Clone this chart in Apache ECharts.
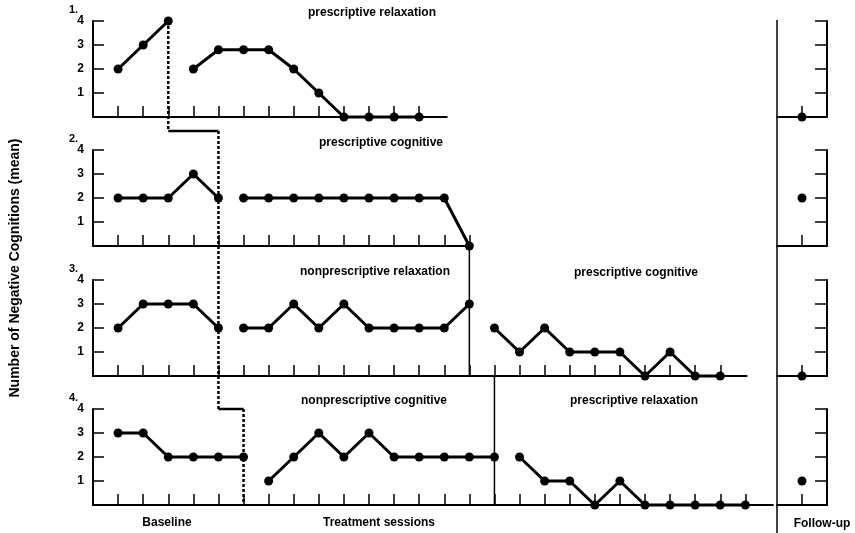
<!DOCTYPE html>
<html>
<head>
<meta charset="utf-8">
<script src="https://cdn.jsdelivr.net/npm/echarts@6/dist/echarts.min.js"></script>
<style>
html,body{margin:0;padding:0;background:#fff;}
#chart{width:855px;height:533px;}
</style>
</head>
<body>
<div id="chart"></div>
<script>
// ---------- DATA ----------
// Panel 1
const p1Baseline = [2, 3, 4];                              // sessions 1-3
const p1Treatment = [2, 2.8, 2.8, 2.8, 2, 1, 0, 0, 0, 0];  // sessions 4-13
// Panel 2
const p2Baseline = [2, 2, 2, 3, 2];                        // sessions 1-5
const p2Treatment = [2, 2, 2, 2, 2, 2, 2, 2, 2, 0];        // sessions 6-15
// Panel 3
const p3Baseline = [2, 3, 3, 3, 2];                        // sessions 1-5
const p3Treatment1 = [2, 2, 3, 2, 3, 2, 2, 2, 2, 3];       // sessions 6-15
const p3Treatment2 = [2, 1, 2, 1, 1, 1, 0, 1, 0, 0];       // sessions 16-25
// Panel 4
const p4Baseline = [3, 3, 2, 2, 2, 2];                     // sessions 1-6
const p4Treatment1 = [1, 2, 3, 2, 3, 2, 2, 2, 2, 2];       // sessions 7-16
const p4Treatment2 = [2, 1, 1, 0, 1, 0, 0, 0, 0, 0];       // sessions 17-26
// Follow-up (one value per panel)
const followUp = [0, 2, 0, 1];

const panelNumbers = ['1.', '2.', '3.', '4.'];
const yTickValues = [1, 2, 3, 4];
const phaseTitles = [
  ['prescriptive relaxation'],
  ['prescriptive cognitive'],
  ['nonprescriptive relaxation', 'prescriptive cognitive'],
  ['nonprescriptive cognitive', 'prescriptive relaxation']
];
const bottomLabels = ['Baseline', 'Treatment sessions', 'Follow-up'];
const yTitle = 'Number of Negative Cognitions (mean)';

// phase segments per panel: [startSession, values]
const panelSegments = [
  [[1, p1Baseline], [4, p1Treatment]],
  [[1, p2Baseline], [6, p2Treatment]],
  [[1, p3Baseline], [6, p3Treatment1], [16, p3Treatment2]],
  [[1, p4Baseline], [7, p4Treatment1], [17, p4Treatment2]]
];
const sessionTicks = [13, 15, 25, 26];        // last ticked session per panel
const axisEnds = [14.1, 15, 26.05, 27.1];     // axis extent in sessions
const baselineEnd = [3, 5, 5, 6];             // last baseline session per panel
const secondPhaseLine = [15, 16];             // panel 3 and 4 phase change sessions

// ---------- LAYOUT ----------
const LEFT = 93, PX = 25.09;
const tops = [21, 150, 280, 409];
const H = 96, UNIT = H / 4;
const bottoms = tops.map(t => t + H);
const FU_LEFT = 777, FU_W = 50;
const FONT = '"Liberation Sans", Arial, sans-serif';
function val(panel, y) { return (bottoms[panel] - y) / UNIT; }
function range(a, b) { const r = []; for (let i = a; i <= b; i++) r.push(i); return r; }

const grids = [], xAxes = [], yAxes = [], series = [];
const axisLineStyle = { color: '#000', width: 2 };
const tickStyle = { color: '#000', width: 1.5 };

tops.forEach((top, i) => {
  // main panel grid
  grids.push({ left: LEFT, top: top, width: axisEnds[i] * PX, height: H, outerBoundsMode: 'none' });
  xAxes.push({
    type: 'value', gridIndex: 2 * i, min: 0, max: axisEnds[i],
    axisLine: { show: true, onZero: false, lineStyle: axisLineStyle },
    axisTick: { show: true, inside: true, length: 11, customValues: range(1, sessionTicks[i]), lineStyle: tickStyle },
    axisLabel: { show: false }, splitLine: { show: false }
  });
  yAxes.push({
    type: 'value', gridIndex: 2 * i, min: 0, max: 4, interval: 1,
    axisLine: { show: true, onZero: false, lineStyle: axisLineStyle },
    axisTick: { show: true, inside: true, length: 11, customValues: yTickValues, lineStyle: tickStyle },
    axisLabel: { show: true, customValues: yTickValues, color: '#000', fontWeight: 'bold', fontSize: 12, fontFamily: FONT, margin: 9 },
    splitLine: { show: false }
  });
  // follow-up grid
  grids.push({ left: FU_LEFT, top: top, width: FU_W, height: H, outerBoundsMode: 'none' });
  xAxes.push({
    type: 'value', gridIndex: 2 * i + 1, min: 0, max: 2,
    axisLine: { show: true, onZero: false, lineStyle: axisLineStyle },
    axisTick: { show: true, inside: true, length: 11, customValues: [1], lineStyle: tickStyle },
    axisLabel: { show: false }, splitLine: { show: false }
  });
  yAxes.push({
    type: 'value', gridIndex: 2 * i + 1, min: 0, max: 4, interval: 1, position: 'right',
    axisLine: { show: true, onZero: false, lineStyle: axisLineStyle },
    axisTick: { show: true, inside: true, length: 12, customValues: yTickValues, lineStyle: tickStyle },
    axisLabel: { show: false }, splitLine: { show: false }
  });

  // data series
  panelSegments[i].forEach(([start, vals]) => {
    series.push({
      type: 'line', xAxisIndex: 2 * i, yAxisIndex: 2 * i, clip: false, silent: true,
      data: vals.map((v, k) => [start + k, v]),
      symbol: 'circle', symbolSize: 9,
      itemStyle: { color: '#000' },
      lineStyle: { color: '#000', width: 3 },
      z: 5
    });
  });
  series.push({
    type: 'line', xAxisIndex: 2 * i + 1, yAxisIndex: 2 * i + 1, clip: false, silent: true,
    data: [[1, followUp[i]]], symbol: 'circle', symbolSize: 9,
    itemStyle: { color: '#000' }, z: 5
  });
});

function seg(panel, pts, dashed, width, fu) {
  const idx = 2 * panel + (fu ? 1 : 0);
  series.push({
    type: 'line', xAxisIndex: idx, yAxisIndex: idx, clip: false, silent: true,
    data: pts, symbol: 'none',
    lineStyle: { color: '#000', width: width, type: dashed ? [3, 2] : 'solid' }, z: 3
  });
}
// baseline -> treatment phase change line (stepped)
const stepY = bottoms[0] + 14;
seg(0, [[baselineEnd[0], 4], [baselineEnd[0], val(0, stepY)]], true, 2.5);
seg(0, [[baselineEnd[0], val(0, stepY)], [baselineEnd[1], val(0, stepY)]], false, 2.5);
seg(1, [[baselineEnd[1], val(1, stepY)], [baselineEnd[1], val(1, tops[3])]], true, 2.5);
seg(3, [[baselineEnd[2], 4], [baselineEnd[3], 4]], false, 2.5);
seg(3, [[baselineEnd[3], 4], [baselineEnd[3], 0]], true, 2.5);
// treatment 1 -> treatment 2 phase change line
seg(2, [[secondPhaseLine[0], val(2, bottoms[1])], [secondPhaseLine[0], 0]], false, 1.5);
seg(3, [[secondPhaseLine[1], val(3, bottoms[2])], [secondPhaseLine[1], 0]], false, 1.5);
// follow-up separator, drawn panel by panel
const sepBreaks = [20, bottoms[0] + 16, bottoms[1] + 17, bottoms[2] + 16, 533];
for (let i = 0; i < 4; i++) {
  seg(i, [[0, val(i, sepBreaks[i])], [0, val(i, sepBreaks[i + 1])]], false, 1.5, true);
}

// ---------- TEXT ----------
const graphics = [];
function txt(text, x, y, size, align, rot) {
  graphics.push({
    type: 'text', x: x, y: y, rotation: rot || 0, silent: true,
    style: { text: text, fill: '#000', fontSize: size, fontWeight: 'bold', fontFamily: FONT,
             textAlign: align || 'center', textVerticalAlign: 'middle' }
  });
}
const titlePos = [[[372, 13]], [[381, 143]], [[375, 272], [636, 273]], [[374, 401], [634, 401]]];
phaseTitles.forEach((ts, i) => ts.forEach((t, k) => txt(t, titlePos[i][k][0], titlePos[i][k][1], 12)));
panelNumbers.forEach((n, i) => txt(n, 69, tops[i] - 11, 11, 'left'));
txt(bottomLabels[0], 167, 523, 12);
txt(bottomLabels[1], 379, 523, 12);
txt(bottomLabels[2], 822, 524, 12);
txt(yTitle, 15, 268, 14, 'center', Math.PI / 2);

const chart = echarts.init(document.getElementById('chart'), null, { renderer: 'canvas' });
chart.setOption({
  backgroundColor: '#fff',
  animation: false,
  grid: grids, xAxis: xAxes, yAxis: yAxes, series: series,
  graphic: graphics
});
</script>
</body>
</html>
